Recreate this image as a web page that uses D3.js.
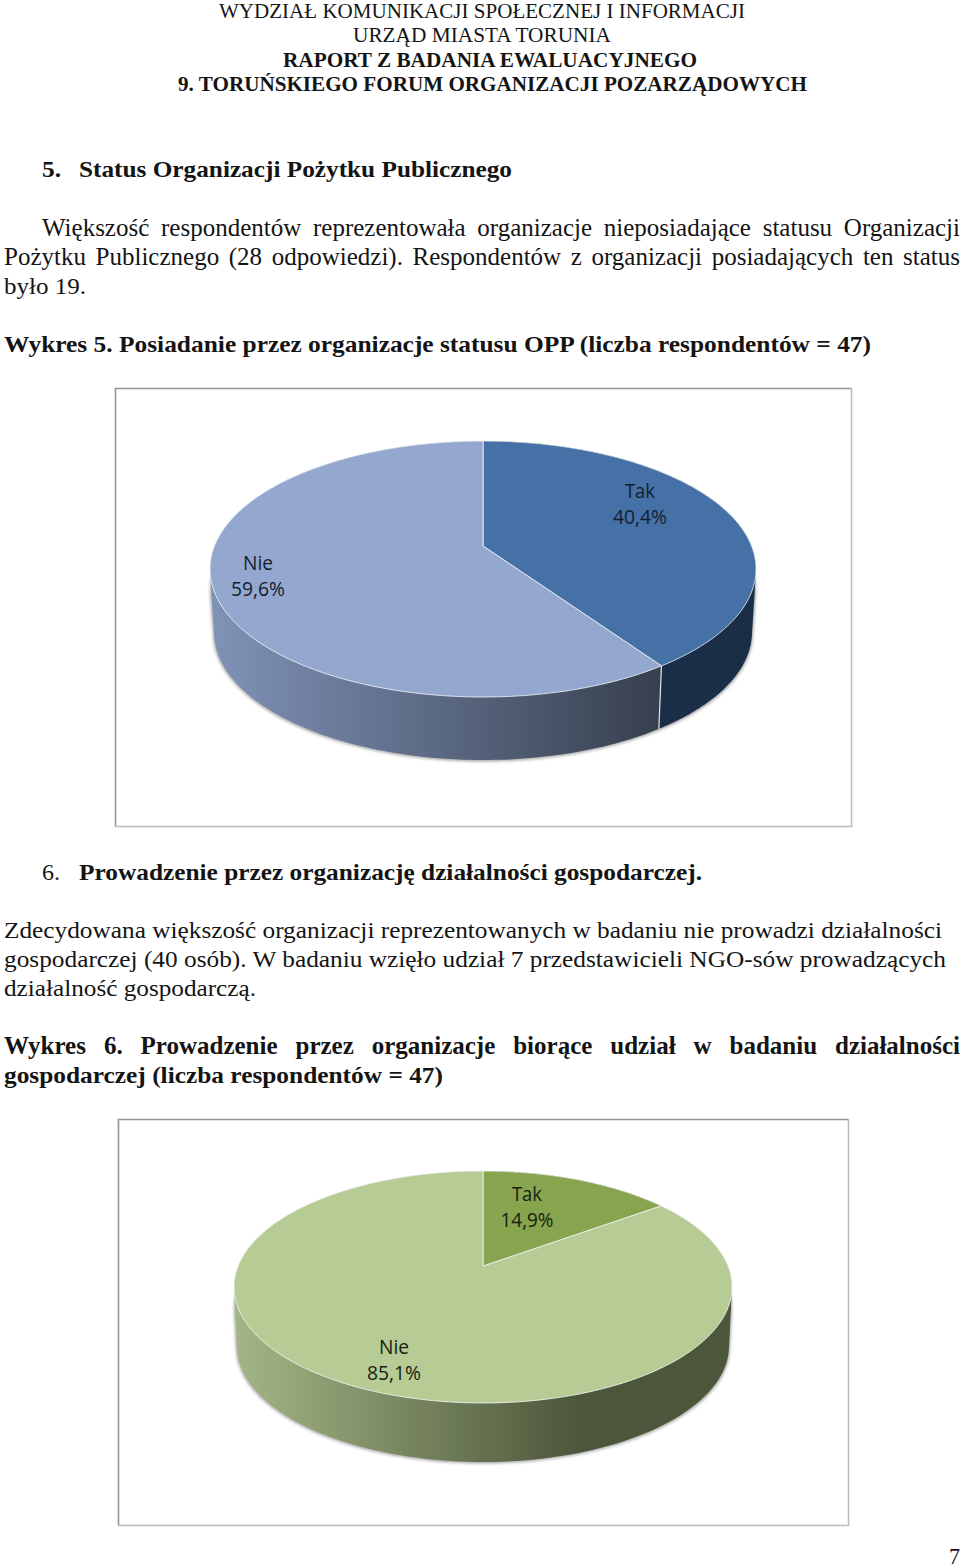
<!DOCTYPE html>
<html lang="pl"><head><meta charset="utf-8">
<script src="https://cdn.jsdelivr.net/npm/d3@7/dist/d3.min.js"></script>
<style>html,body{margin:0;background:#fff}svg{display:block}</style></head>
<body><svg id="page" width="960" height="1568"></svg>
<script>
// DATA
const categories = ["Tak", "Nie"];
const chart5Values = [19, 28];
const chart6Values = [7, 40];
const chart5Labels = ["40,4%", "59,6%"];
const chart6Labels = ["14,9%", "85,1%"];
const textLines = [
 "WYDZIAŁ KOMUNIKACJI SPOŁECZNEJ I INFORMACJI",
 "URZĄD MIASTA TORUNIA",
 "RAPORT Z BADANIA EWALUACYJNEGO",
 "9. TORUŃSKIEGO FORUM ORGANIZACJI POZARZĄDOWYCH",
 "5.",
 "Status Organizacji Pożytku Publicznego",
 "Większość respondentów reprezentowała organizacje nieposiadające statusu Organizacji",
 "Pożytku Publicznego (28 odpowiedzi). Respondentów z organizacji posiadających ten status",
 "było 19.",
 "Wykres 5. Posiadanie przez organizacje statusu OPP (liczba respondentów = 47)",
 "6.",
 "Prowadzenie przez organizację działalności gospodarczej.",
 "Zdecydowana większość organizacji reprezentowanych w badaniu nie prowadzi działalności",
 "gospodarczej (40 osób). W badaniu wzięło udział 7 przedstawicieli NGO-sów prowadzących",
 "działalność gospodarczą.",
 "Wykres 6. Prowadzenie przez organizacje biorące udział w badaniu działalności",
 "gospodarczej (liczba respondentów = 47)",
 "7"
];

// LAYOUT (x0, x1, baseline, font size, bold, justify by word gaps)
const textLayout = [
 [219,745,18,21,0,0],[353,611,42,21,0,0],[283,697,67,21,1,0],[178,807,91,21,1,0],
 [42,61,177,24,1,0],[79,512,177,24,1,0],
 [42,960,236,25,0,1],[4,960,265,25,0,1],[4,86,294,24,0,0],
 [4,871,352,24,1,0],
 [42,60,880,24,0,0],[79,702,880,24,1,0],
 [4,942,938,24,0,0],[4,946,967,24,0,0],[4,256,996,24,0,0],
 [4,960,1054,25,1,1],[4,443,1083,24,1,0],
 [949,960,1564,24,0,0]
];

const svg = d3.select("#page");
const defs = svg.append("defs");
defs.append("filter").attr("id","soft").attr("x","-5%").attr("y","-5%").attr("width","110%").attr("height","110%")
  .append("feGaussianBlur").attr("stdDeviation",1.5);

// Body text
textLines.forEach((t,i)=>{
  const [x0,x1,y,size,bold,just] = textLayout[i];
  const el = svg.append("text").attr("x",x0).attr("y",y)
    .attr("font-family","'Liberation Serif','Times New Roman',serif")
    .attr("font-size",size).attr("font-weight",bold?700:400).attr("fill","#141414").text(t);
  const w = el.node().getComputedTextLength(), target = x1-x0;
  if(just){
    const gaps = t.split(" ").length-1;
    const ws = (target-w)/gaps;
    if(ws>=0){ el.attr("word-spacing",ws); }
    else { el.attr("textLength",target).attr("lengthAdjust","spacingAndGlyphs"); }
  } else {
    el.attr("textLength",target).attr("lengthAdjust","spacingAndGlyphs");
  }
});

// Pie charts
const pieLayout = d3.pie().sort(null).startAngle(0).endAngle(2*Math.PI);
const tilt = 0.18, squeeze = Math.sqrt(1-tilt*tilt);

function drawPie(cfg){
  const g = svg.append("g");
  const [fx0,fy0,fx1,fy1]=cfg.frame;
  g.append("rect").attr("x",fx0).attr("y",fy0).attr("width",fx1-fx0).attr("height",fy1-fy0).attr("fill","#fff");
  g.append("path").attr("d",`M${fx1+.5},${fy0+.5}V${fy1+.5}H${fx0+.5}`).attr("fill","none").attr("stroke","#bcbcbc").attr("stroke-width",1.6);
  g.append("path").attr("d",`M${fx0+.5},${fy1+.5}V${fy0+.5}H${fx1+.5}`).attr("fill","none").attr("stroke","#959595").attr("stroke-width",1.6);

  // perspective map of the disc: angle and radius to screen
  const project = (a,r,e)=>{
    const X=r*Math.sin(a), V=-r*Math.cos(a), den=1-tilt*V;
    return [e.cx+e.rx*X*squeeze/den, e.cy+e.ry*(V-tilt)/den];
  };
  const top={cx:cfg.cx,cy:cfg.cy,rx:cfg.rx,ry:cfg.ry};
  const bottom={cx:cfg.cx,cy:cfg.cy+cfg.depth,rx:cfg.rxBottom,ry:cfg.ry};
  const line=d3.line();
  const samples=(a0,a1,e)=>d3.range(0,181).map(i=>project(a0+(a1-a0)*i/180,1,e));
  const arcs=pieLayout(cfg.values);

  // soft shadow beneath the wall
  const shadowPts=samples(0,2*Math.PI,{...bottom,cy:bottom.cy+1.5,rx:bottom.rx+1})
    .concat(samples(0,2*Math.PI,{...top,cy:top.cy+22,rx:top.rx}));
  g.append("path").attr("d",line(d3.polygonHull(shadowPts))+"Z")
    .attr("fill","#6e6e6e").attr("opacity",.6).attr("filter","url(#soft)");

  const gid="wall"+cfg.id;
  const grad=defs.append("linearGradient").attr("id",gid).attr("gradientUnits","userSpaceOnUse")
    .attr("x1",cfg.gradX[0]).attr("x2",cfg.gradX[1]).attr("y1",0).attr("y2",0);
  cfg.gradColors.forEach((c,i)=>grad.append("stop").attr("offset",i).attr("stop-color",c));

  // walls: the outline of the swept rim, so the silhouette drops straight from the top edge
  arcs.forEach((d,i)=>{
    const pts=samples(d.startAngle,d.endAngle,top).concat(samples(d.startAngle,d.endAngle,bottom));
    g.append("path").attr("d",line(d3.polygonHull(pts))+"Z")
      .attr("fill",cfg.wallFill[i]==="grad"?`url(#${gid})`:cfg.wallFill[i]);
  });
  // wall divider
  const cut=arcs[0].endAngle;
  if(cfg.divider){
    g.append("path").attr("d",line([project(cut,1,top),project(cut,1,bottom)]))
      .attr("stroke","#dfe6f0").attr("stroke-width",1.2).attr("fill","none");
  }

  // top faces
  const apex=project(0,0,top);
  arcs.forEach((d,i)=>{
    g.append("path").attr("d",line([apex].concat(samples(d.startAngle,d.endAngle,top)))+"Z")
      .attr("fill",cfg.topFill[i]).attr("stroke","#f3f6f8").attr("stroke-opacity",.8).attr("stroke-width",1)
      .attr("stroke-linejoin","round");
  });

  // labels
  cfg.labels.forEach((l,i)=>{
    const p=cfg.labelPos[i];
    [[categories[i],p[0],p[1],p[2]],[l,p[0],p[1]+25.5,p[3]]].forEach(([txt,x,y,w])=>{
      g.append("text").attr("x",x-w/2).attr("y",y+7).attr("textLength",w).attr("lengthAdjust","spacingAndGlyphs")
        .attr("font-family","'Open Sans','Noto Sans',sans-serif").attr("font-size",19.5).attr("fill",cfg.labelColor).text(txt);
    });
  });
}

drawPie({id:5,values:chart5Values,labels:chart5Labels,frame:[115,388,851,826],
  cx:483,cy:569,rx:273,ry:128,depth:63,rxBottom:269,
  gradX:[214,657],gradColors:["#7f92b7","#37404f"],
  topFill:["#4571a6","#94a8cf"],wallFill:["#1a2e47","grad"],divider:true,
  labelPos:[[640,491,30,54],[258,563,30,54]],labelColor:"#141d30"});
drawPie({id:6,values:chart6Values,labels:chart6Labels,frame:[118,1119,848,1525],
  cx:483,cy:1287,rx:249,ry:116,depth:59,rxBottom:246,
  gradX:[238,580],gradColors:["#a3b584","#4c563a"],
  topFill:["#87a44f","#b7cc94"],wallFill:["#4c563a","grad"],divider:false,
  labelPos:[[527,1194,30,53],[394,1347,30,54]],labelColor:"#162010"});
</script></body></html>
